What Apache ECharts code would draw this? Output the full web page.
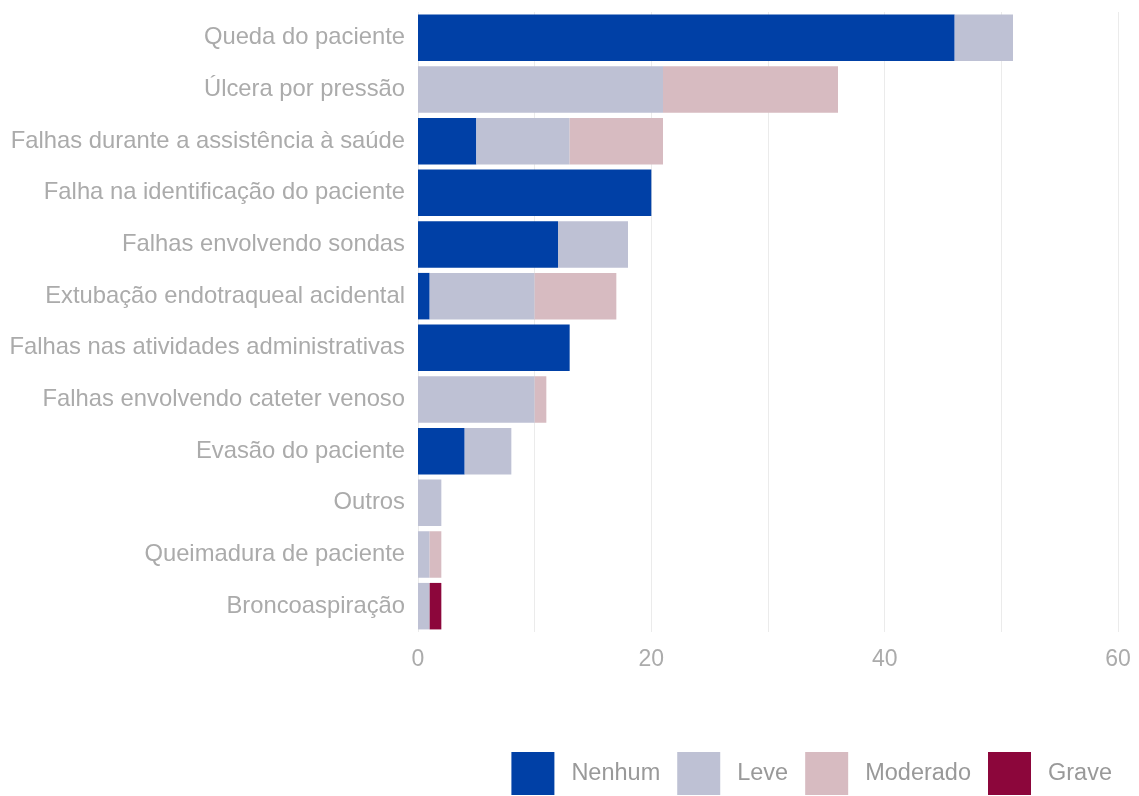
<!DOCTYPE html>
<html>
<head>
<meta charset="utf-8">
<script src="https://cdn.jsdelivr.net/npm/echarts@6/dist/echarts.min.js"></script>
<style>html,body{margin:0;padding:0;background:#fff}#c{width:1139px;height:796px}</style>
</head>
<body>
<div id="c"></div>
<script>
const categories = [
  "Queda do paciente",
  "Úlcera por pressão",
  "Falhas durante a assistência à saúde",
  "Falha na identificação do paciente",
  "Falhas envolvendo sondas",
  "Extubação endotraqueal acidental",
  "Falhas nas atividades administrativas",
  "Falhas envolvendo cateter venoso",
  "Evasão do paciente",
  "Outros",
  "Queimadura de paciente",
  "Broncoaspiração"
];
const nenhum   = [46, 0, 5, 20, 12, 1, 13, 0, 4, 0, 0, 0];
const leve     = [5, 21, 8, 0, 6, 9, 0, 10, 4, 2, 1, 1];
const moderado = [0, 15, 8, 0, 0, 7, 0, 1, 0, 0, 1, 0];
const grave    = [0, 0, 0, 0, 0, 0, 0, 0, 0, 0, 0, 1];
const xTicks = [0, 20, 40, 60];

const font = "Liberation Sans, Arial, sans-serif";
const chart = echarts.init(document.getElementById('c'));
function s(name, data, color) {
  return { name, type: 'bar', stack: 'total', data, barCategoryGap: '10%',
    itemStyle: { color }, emphasis: { disabled: true } };
}
chart.setOption({
  animation: false,
  grid: { left: 418, right: 21, top: 12, bottom: 164, containLabel: false },
  xAxis: {
    type: 'value', min: 0, max: 60, interval: 10,
    axisLine: { show: false }, axisTick: { show: false },
    splitLine: { lineStyle: { color: '#ebebeb', width: 1 } },
    axisLabel: { color: '#ababab', fontSize: 23, fontFamily: font, margin: 16,
      formatter: v => xTicks.includes(v) ? String(v) : '' }
  },
  yAxis: {
    type: 'category', data: categories, inverse: true,
    axisLine: { show: false }, axisTick: { show: false },
    splitLine: { show: false },
    axisLabel: { color: '#ababab', fontSize: 23.8, fontFamily: font, margin: 13, padding: [5, 0, 0, 0] }
  },
  legend: {
    data: ['Nenhum', 'Leve', 'Moderado', 'Grave'],
    right: 22, top: 747, itemWidth: 43, itemHeight: 43, itemGap: 17,
    icon: 'rect',
    textStyle: { color: '#999', fontSize: 23.5, fontFamily: font, padding: [0, 0, 0, 12] }
  },
  series: [
    s('Nenhum', nenhum, '#0040a6'),
    s('Leve', leve, '#bec1d4'),
    s('Moderado', moderado, '#d7bbc1'),
    s('Grave', grave, '#8c063b')
  ]
});
</script>
</body>
</html>
